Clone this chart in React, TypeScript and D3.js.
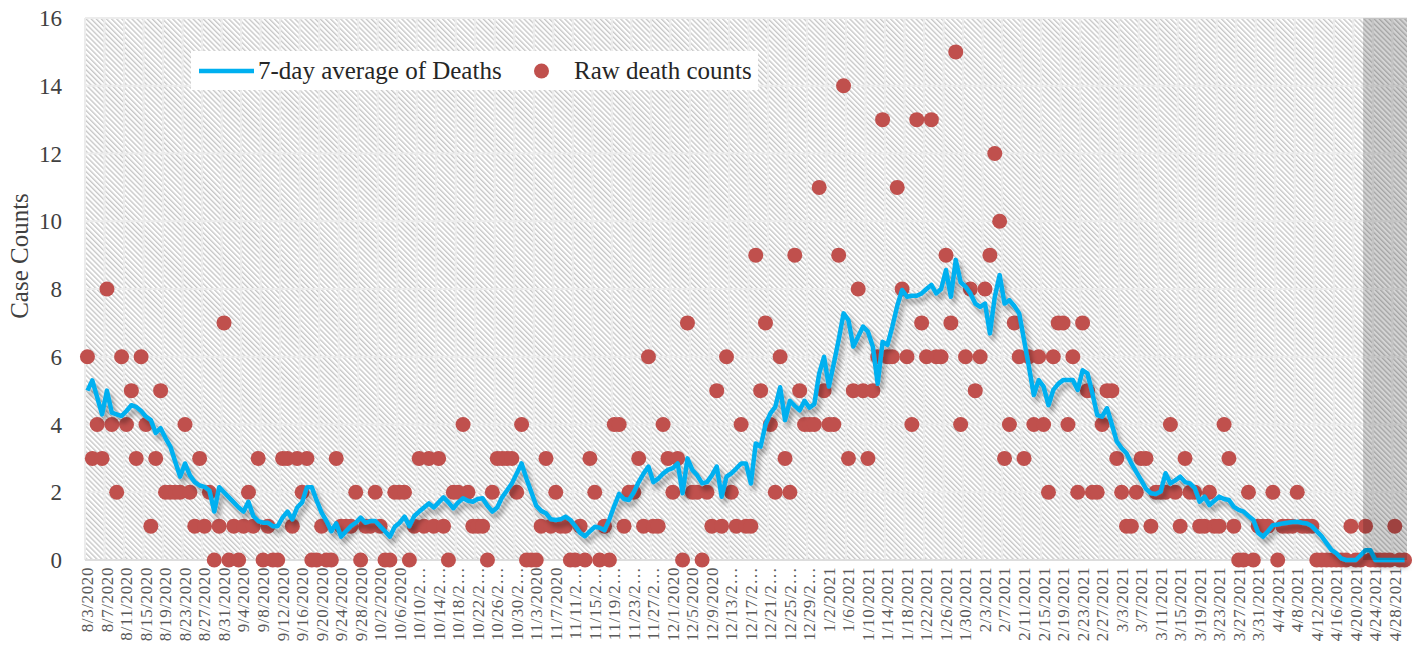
import React, { useEffect, useRef } from "react";
import * as d3 from "d3";

// categories: one per day, 8/3/2020 .. 4/30/2021
const dates = d3.timeDays(new Date(2020, 7, 3), new Date(2021, 4, 1));

// raw daily death counts
const rawDeaths = [
  6, 3, 4, 3, 8, 4, 2, 6, 4, 5,
  3, 6, 4, 1, 3, 5, 2, 2, 2, 2,
  4, 2, 1, 3, 1, 2, 0, 1, 7, 0,
  1, 0, 1, 2, 1, 3, 0, 1, 0, 0,
  3, 3, 1, 3, 2, 3, 0, 0, 1, 0,
  0, 3, 1, 1, 1, 2, 0, 1, 1, 2,
  1, 0, 0, 2, 2, 2, 0, 1, 3, 1,
  3, 1, 3, 1, 0, 2, 2, 4, 2, 1,
  1, 1, 0, 2, 3, 3, 3, 3, 2, 4,
  0, 0, 0, 1, 3, 1, 2, 1, 1, 0,
  0, 1, 0, 3, 2, 0, 1, 0, 4, 4,
  1, 2, 2, 3, 1, 6, 1, 1, 4, 3,
  2, 3, 0, 7, 2, 2, 0, 2, 1, 5,
  1, 6, 2, 1, 4, 1, 1, 9, 5, 7,
  4, 2, 6, 3, 2, 9, 5, 4, 4, 4,
  11, 5, 4, 4, 9, 14, 3, 5, 8, 5,
  3, 5, 6, 13, 6, 6, 11, 8, 6, 4,
  13, 7, 6, 13, 6, 6, 9, 7, 15, 4,
  6, 8, 5, 6, 8, 9, 12, 10, 3, 4,
  7, 6, 3, 6, 4, 6, 4, 2, 6, 7,
  7, 4, 6, 2, 7, 5, 2, 2, 4, 5,
  5, 3, 2, 1, 1, 2, 3, 3, 1, 2,
  2, 2, 4, 2, 1, 3, 2, 2, 1, 1,
  2, 1, 1, 4, 3, 1, 0, 0, 2, 0,
  1, 1, 1, 2, 0, 1, 1, 1, 2, 1,
  1, 1, 0, 0, 0, 0, 0, 0, 0, 1,
  0, 0, 1, 0, 0, 0, 0, 0, 1, 0,
  0,
];

// 7-day average line
const avgDeaths = [
  5.0, 5.3, 4.8, 4.3, 5.0, 4.35, 4.3, 4.25, 4.4, 4.57,
  4.52, 4.4, 4.23, 4.13, 3.75, 3.89, 3.6, 3.35, 2.9, 2.46,
  2.85, 2.5, 2.3, 2.2, 2.16, 2.05, 1.43, 2.15, 2.0, 1.85,
  1.7, 1.55, 1.43, 1.72, 1.3, 1.15, 1.1, 1.1, 1.0, 1.0,
  1.25, 1.43, 1.2, 1.55, 1.7, 2.15, 2.15, 1.75, 1.4, 1.15,
  0.85, 1.08, 0.69, 0.85, 1.0, 1.1, 1.25, 1.1, 1.15, 1.15,
  1.0, 0.85, 0.69, 0.98, 1.1, 1.28, 1.0, 1.3, 1.43, 1.55,
  1.67, 1.55, 1.7, 1.85, 1.7, 1.53, 1.7, 1.82, 1.75, 1.72,
  1.8, 1.82, 1.6, 1.43, 1.55, 1.85, 2.05, 2.26, 2.55, 2.85,
  2.4, 2.0, 1.6, 1.45, 1.38, 1.2, 1.18, 1.2, 1.28, 1.18,
  1.0, 0.8, 0.7, 0.85, 0.98, 0.95, 0.88, 1.2, 1.6, 1.95,
  1.8, 1.77, 2.0, 2.3, 2.55, 2.76, 2.3, 2.4, 2.55, 2.66,
  2.71, 2.85, 1.97, 3.0, 2.66, 2.5, 2.26, 2.3, 2.5, 2.76,
  1.87, 2.46, 2.56, 2.7, 2.85, 2.85, 2.26, 3.44, 3.35, 4.0,
  4.33, 4.52, 5.1, 4.13, 4.7, 4.55, 4.42, 4.7, 4.5, 4.6,
  5.5, 6.0, 5.12, 5.8, 6.5, 7.28, 7.08, 6.3, 6.6, 6.89,
  6.74, 6.3, 5.2, 6.44, 6.35, 6.89, 7.5, 7.97, 7.77, 7.8,
  7.8, 7.87, 8.0, 8.12, 7.87, 8.0, 8.56, 7.77, 8.86, 8.2,
  8.07, 7.87, 7.57, 7.47, 7.57, 6.69, 7.77, 8.41, 7.57, 7.67,
  7.5, 7.28, 6.49, 5.7, 4.87, 5.31, 5.12, 4.57, 5.02, 5.2,
  5.31, 5.31, 5.31, 5.02, 5.6, 5.51, 4.92, 4.28, 4.23, 4.48,
  4.0, 3.5, 3.3, 3.15, 2.85, 2.6, 2.36, 2.1, 1.97, 1.95,
  2.02, 2.56, 2.26, 2.35, 2.46, 2.3, 2.26, 2.12, 1.72, 1.87,
  1.62, 1.75, 1.87, 1.8, 1.77, 1.57, 1.48, 1.43, 1.3, 1.18,
  0.8, 0.69, 0.85, 1.03, 1.05, 1.08, 1.1, 1.12, 1.13, 1.1,
  1.08, 1.0, 0.85, 0.7, 0.5, 0.3, 0.2, 0.05, 0, 0,
  0, 0.14, 0.29, 0.29, 0, 0, 0, 0, 0, 0,
  0,
];

const yTicks = [0, 2, 4, 6, 8, 10, 12, 14, 16];
const shadeStart = "4/22/2021";
const legendLabels = ["7-day average of Deaths", "Raw death counts"];
const yTitle = "Case Counts";

const FONT = "Liberation Serif, DejaVu Serif, serif";
const fmt = d3.timeFormat("%-m/%-d/%Y");

const App = () => {
  const ref = useRef<SVGSVGElement>(null);

  useEffect(() => {
    drawChart();
    //eslint-disable-next-line
  }, []);

  function drawChart() {
    const svg = d3.select(ref.current);
    svg.selectAll("*").remove();

    const plot = { left: 85, right: 1407, top: 18, bottom: 560 };
    const labels = dates.map((d) => fmt(d));

    const x = d3
      .scaleBand<number>()
      .domain(d3.range(labels.length))
      .range([plot.left, plot.right])
      .padding(0);
    const bw = x.bandwidth();
    const cx = (i: number) => (x(i) as number) + bw / 2;
    const y = d3.scaleLinear().domain([0, 16]).range([plot.bottom, plot.top]);

    const defs = svg.append("defs");
    const pat = defs
      .append("pattern")
      .attr("id", "hatch")
      .attr("patternUnits", "userSpaceOnUse")
      .attr("width", 3.6)
      .attr("height", 3.6)
      .attr("patternTransform", "rotate(-45)");
    pat.append("rect").attr("width", 3.6).attr("height", 3.6).attr("fill", "#ffffff");
    pat
      .append("line")
      .attr("x1", 0.7)
      .attr("x2", 0.7)
      .attr("y1", 0)
      .attr("y2", 3.6)
      .attr("stroke", "#c4c4c4")
      .attr("stroke-width", 1.3);

    const filt = defs
      .append("filter")
      .attr("id", "shadow")
      .attr("x", "-5%")
      .attr("y", "-10%")
      .attr("width", "110%")
      .attr("height", "130%");
    filt
      .append("feDropShadow")
      .attr("dx", 3)
      .attr("dy", 5)
      .attr("stdDeviation", 2.5)
      .attr("flood-color", "#000")
      .attr("flood-opacity", 0.35);

    // plot background
    svg
      .append("rect")
      .attr("x", plot.left)
      .attr("y", plot.top)
      .attr("width", plot.right - plot.left)
      .attr("height", plot.bottom - plot.top)
      .attr("fill", "url(#hatch)");

    // gridlines
    svg
      .append("g")
      .selectAll("line")
      .data(yTicks)
      .enter()
      .append("line")
      .attr("x1", plot.left)
      .attr("x2", plot.right)
      .attr("y1", (d) => y(d))
      .attr("y2", (d) => y(d))
      .attr("stroke", "#ececec")
      .attr("stroke-width", 2);

    const vIdx = d3.range(0, labels.length + 1, 4);
    svg
      .append("g")
      .selectAll("line")
      .data(vIdx)
      .enter()
      .append("line")
      .attr("x1", (d) => plot.left + d * bw)
      .attr("x2", (d) => plot.left + d * bw)
      .attr("y1", plot.top)
      .attr("y2", plot.bottom)
      .attr("stroke", "#ececec")
      .attr("stroke-width", 2);

    svg
      .append("line")
      .attr("x1", plot.left)
      .attr("x2", plot.right)
      .attr("y1", plot.bottom)
      .attr("y2", plot.bottom)
      .attr("stroke", "#d9d9d9")
      .attr("stroke-width", 1.5);

    // raw counts
    svg
      .append("g")
      .selectAll("circle")
      .data(rawDeaths)
      .enter()
      .append("circle")
      .attr("cx", (d, i) => cx(i))
      .attr("cy", (d) => y(d))
      .attr("r", 7.5)
      .attr("fill", "#C0504D");

    // 7-day average
    const line = d3
      .line<number>()
      .x((d, i) => cx(i))
      .y((d) => y(d));
    svg
      .append("path")
      .datum(avgDeaths)
      .attr("d", line)
      .attr("fill", "none")
      .attr("stroke", "#00B0F0")
      .attr("stroke-width", 4.5)
      .attr("stroke-linejoin", "round")
      .attr("filter", "url(#shadow)");

    // shaded recent period
    const s = labels.indexOf(shadeStart);
    svg
      .append("rect")
      .attr("x", x(s) as number)
      .attr("y", plot.top)
      .attr("width", plot.right - (x(s) as number))
      .attr("height", plot.bottom - plot.top)
      .attr("fill", "#000")
      .attr("fill-opacity", 0.17);

    // y axis labels
    svg
      .append("g")
      .selectAll("text")
      .data(yTicks)
      .enter()
      .append("text")
      .attr("x", 62)
      .attr("y", (d) => y(d))
      .attr("dy", "0.35em")
      .attr("text-anchor", "end")
      .style("font-family", FONT)
      .attr("font-size", 23)
      .attr("fill", "#404040")
      .text((d) => d);

    svg
      .append("text")
      .attr("transform", "translate(28,256) rotate(-90)")
      .attr("text-anchor", "middle")
      .style("font-family", FONT)
      .attr("font-size", 25)
      .attr("fill", "#404040")
      .text(yTitle);

    // x axis labels, every 4th day
    const xIdx = d3.range(0, labels.length, 4);
    svg
      .append("g")
      .selectAll("text")
      .data(xIdx)
      .enter()
      .append("text")
      .attr("transform", (d) => `translate(${cx(d)},567) rotate(-90)`)
      .attr("dy", "0.35em")
      .attr("text-anchor", "end")
      .style("font-family", FONT)
      .attr("font-size", 17)
      .attr("letter-spacing", 0.6)
      .attr("fill", "#595959")
      .text((d) => (labels[d].length > 9 ? labels[d].slice(0, 7) + "…" : labels[d]));

    // legend
    const lg = svg.append("g");
    lg.append("rect")
      .attr("x", 191)
      .attr("y", 51)
      .attr("width", 567)
      .attr("height", 39)
      .attr("fill", "#ffffff");
    lg.append("line")
      .attr("x1", 199)
      .attr("x2", 254)
      .attr("y1", 71)
      .attr("y2", 71)
      .attr("stroke", "#00B0F0")
      .attr("stroke-width", 4.5);
    lg.append("text")
      .attr("x", 258)
      .attr("y", 79)
      .style("font-family", FONT)
      .attr("font-size", 25)
      .attr("fill", "#262626")
      .text(legendLabels[0]);
    lg.append("circle").attr("cx", 541.5).attr("cy", 71).attr("r", 7.5).attr("fill", "#C0504D");
    lg.append("text")
      .attr("x", 574)
      .attr("y", 79)
      .style("font-family", FONT)
      .attr("font-size", 25)
      .attr("fill", "#262626")
      .text(legendLabels[1]);
  }

  return (
    <div style={{ position: "absolute", left: 0, top: 0, background: "#fff" }}>
      <svg ref={ref} width={1419} height={654}></svg>
    </div>
  );
};

export default App;
